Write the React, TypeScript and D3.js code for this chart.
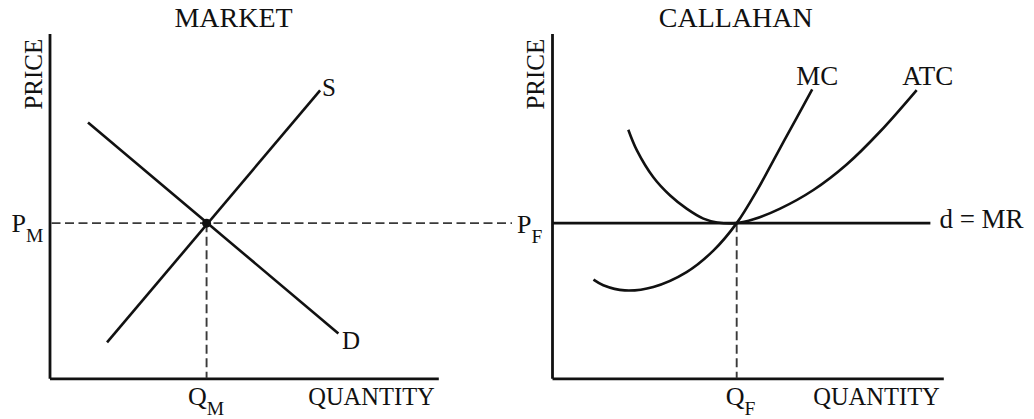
import { useEffect, useRef } from "react";
import * as d3 from "d3";

// market panel (quantity, price) in 0-10 units
const demandPts: [number, number][] = [
  [0.99, 7.42],
  [7.43, 1.3],
];
const supplyPts: [number, number][] = [
  [1.48, 1.04],
  [6.96, 8.35],
];
const marketEq: [number, number] = [4.04, 4.5];

// firm panel
const mcPts: [number, number][] = [
  [1.06, 2.86],
  [1.31, 2.7],
  [1.86, 2.55],
  [2.59, 2.65],
  [3.44, 3.08],
  [4.13, 3.71],
  [4.72, 4.5],
  [5.24, 5.45],
  [5.75, 6.51],
  [6.26, 7.57],
  [6.65, 8.38],
];
const atcPts: [number, number][] = [
  [1.95, 7.21],
  [2.17, 6.61],
  [2.59, 5.83],
  [3.02, 5.3],
  [3.44, 4.92],
  [3.87, 4.63],
  [4.22, 4.52],
  [4.72, 4.5],
  [5.15, 4.61],
  [5.83, 4.92],
  [6.68, 5.46],
  [7.53, 6.2],
  [8.38, 7.15],
  [9.32, 8.36],
];
const firmEq: [number, number] = [4.72, 4.5];
const mrEnd = 9.67;

const titles = ["MARKET", "CALLAHAN"];

const FONT = "'Liberation Serif', 'Times New Roman', serif";

export default function App() {
  const svgRef = useRef<SVGSVGElement>(null);
  const width = 1034;
  const height = 419;

  useEffect(() => {
    const svg = d3.select(svgRef.current);
    svg.selectAll("*").remove();
    svg.style("font-family", FONT).style("fill", "#111");

    const yScale = d3.scaleLinear().domain([0, 10]).range([378.3, 33.5]);
    const xLeft = d3.scaleLinear().domain([0, 10]).range([49.5, 438.3]);
    const xRight = d3.scaleLinear().domain([0, 10]).range([552, 943.3]);

    const ink = "#111";
    const dashInk = "#3a3a3a";
    const dash = "9,4.5";

    const drawAxes = (x) => {
      const gx = svg
        .append("g")
        .attr("transform", `translate(0,${yScale(0)})`)
        .call(d3.axisBottom(x).ticks(0).tickSize(0).tickSizeOuter(0));
      const gy = svg
        .append("g")
        .attr("transform", `translate(${x(0)},0)`)
        .call(d3.axisLeft(yScale).ticks(0).tickSize(0).tickSizeOuter(0));
      [gx, gy].forEach((g) =>
        g.select(".domain").attr("stroke", ink).attr("stroke-width", 2.8)
      );
    };
    drawAxes(xLeft);
    drawAxes(xRight);

    // titles, axis names
    [xLeft, xRight].forEach((x, i) => {
      svg
        .append("text")
        .attr("x", i === 0 ? 233.5 : 735.8)
        .attr("y", 26.8)
        .attr("text-anchor", "middle")
        .style("font-size", "28px")
        .text(titles[i]);

      svg
        .append("text")
        .attr("transform", `translate(${x(0) - 8},${74.2}) rotate(-90)`)
        .attr("text-anchor", "middle")
        .style("font-size", "25px")
        .text("PRICE");

      svg
        .append("text")
        .attr("x", x(10) - 3.5)
        .attr("y", 404.5)
        .attr("text-anchor", "end")
        .style("font-size", "24.5px")
        .text("QUANTITY");
    });

    // market price dashed line, runs across to the firm's P_F
    svg
      .append("line")
      .attr("x1", xLeft(0) + 2)
      .attr("x2", xRight(0) - 40)
      .attr("y1", yScale(marketEq[1]))
      .attr("y2", yScale(marketEq[1]))
      .attr("stroke", dashInk)
      .attr("stroke-width", 1.9)
      .attr("stroke-dasharray", dash);

    svg
      .append("line")
      .attr("x1", xLeft(marketEq[0]))
      .attr("x2", xLeft(marketEq[0]))
      .attr("y1", yScale(marketEq[1]))
      .attr("y2", yScale(0))
      .attr("stroke", dashInk)
      .attr("stroke-width", 1.9)
      .attr("stroke-dasharray", dash);

    const lineL = d3
      .line<[number, number]>()
      .x((d) => xLeft(d[0]))
      .y((d) => yScale(d[1]));

    [demandPts, supplyPts].forEach((pts) => {
      svg
        .append("path")
        .attr("d", lineL(pts))
        .attr("fill", "none")
        .attr("stroke", ink)
        .attr("stroke-width", 2.6);
    });

    svg
      .append("circle")
      .attr("cx", xLeft(marketEq[0]))
      .attr("cy", yScale(marketEq[1]))
      .attr("r", 4.5)
      .attr("fill", ink);

    // curve labels
    const sEnd = supplyPts[supplyPts.length - 1];
    svg
      .append("text")
      .attr("x", xLeft(sEnd[0]) + 2)
      .attr("y", yScale(sEnd[1]) + 6)
      .style("font-size", "25px")
      .text("S");
    const dEnd = demandPts[demandPts.length - 1];
    svg
      .append("text")
      .attr("x", xLeft(dEnd[0]) + 3.5)
      .attr("y", yScale(dEnd[1]) + 16)
      .style("font-size", "25px")
      .text("D");

    // P_M and Q_M
    const pm = svg
      .append("text")
      .attr("x", 11.5)
      .attr("y", 231.7)
      .style("font-size", "26px");
    pm.append("tspan").text("P");
    pm.append("tspan").attr("dy", 10).style("font-size", "19.5px").text("M");

    const qm = svg
      .append("text")
      .attr("x", xLeft(marketEq[0]) - 18.5)
      .attr("y", 405)
      .style("font-size", "26px");
    qm.append("tspan").text("Q");
    qm.append("tspan").attr("dy", 10).style("font-size", "19.5px").text("M");

    // firm panel
    svg
      .append("line")
      .attr("x1", xRight(0))
      .attr("x2", xRight(mrEnd))
      .attr("y1", yScale(firmEq[1]))
      .attr("y2", yScale(firmEq[1]))
      .attr("stroke", ink)
      .attr("stroke-width", 2.6);

    svg
      .append("line")
      .attr("x1", xRight(firmEq[0]))
      .attr("x2", xRight(firmEq[0]))
      .attr("y1", yScale(firmEq[1]))
      .attr("y2", yScale(0))
      .attr("stroke", dashInk)
      .attr("stroke-width", 1.9)
      .attr("stroke-dasharray", dash);

    const curveR = d3
      .line<[number, number]>()
      .x((d) => xRight(d[0]))
      .y((d) => yScale(d[1]))
      .curve(d3.curveCatmullRom.alpha(0.5));

    [mcPts, atcPts].forEach((pts) => {
      svg
        .append("path")
        .attr("d", curveR(pts))
        .attr("fill", "none")
        .attr("stroke", ink)
        .attr("stroke-width", 2.6);
    });

    const mcEnd = mcPts[mcPts.length - 1];
    svg
      .append("text")
      .attr("x", xRight(mcEnd[0]) + 5)
      .attr("y", yScale(mcEnd[1]) - 4)
      .attr("text-anchor", "middle")
      .style("font-size", "27px")
      .text("MC");
    const atcEnd = atcPts[atcPts.length - 1];
    svg
      .append("text")
      .attr("x", xRight(atcEnd[0]) + 11)
      .attr("y", yScale(atcEnd[1]) - 5)
      .attr("text-anchor", "middle")
      .style("font-size", "27px")
      .text("ATC");

    svg
      .append("text")
      .attr("x", xRight(mrEnd) + 9)
      .attr("y", yScale(firmEq[1]) + 4.5)
      .style("font-size", "27px")
      .text("d = MR");

    const pf = svg
      .append("text")
      .attr("x", xRight(0) - 35)
      .attr("y", 232.5)
      .style("font-size", "26px");
    pf.append("tspan").text("P");
    pf.append("tspan").attr("dy", 10).style("font-size", "19.5px").text("F");

    const qf = svg
      .append("text")
      .attr("x", xRight(firmEq[0]) - 11)
      .attr("y", 405)
      .style("font-size", "26px");
    qf.append("tspan").text("Q");
    qf.append("tspan").attr("dy", 10).style("font-size", "19.5px").text("F");
  }, []);

  return (
    <svg
      ref={svgRef}
      width={width}
      height={height}
      style={{ position: "absolute", left: 0, top: 0, background: "#fff" }}
    ></svg>
  );
}
